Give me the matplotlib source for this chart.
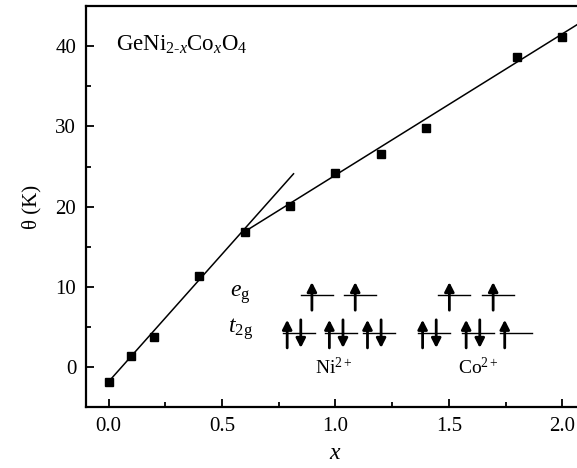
import numpy as np
import matplotlib
matplotlib.use("Agg")
from matplotlib import pyplot as plt
from matplotlib.ticker import MultipleLocator

plt.rcParams['font.family'] = ['Liberation Serif', 'DejaVu Serif']
plt.rcParams['mathtext.fontset'] = 'custom'
plt.rcParams['mathtext.rm'] = 'Liberation Serif'
plt.rcParams['mathtext.it'] = 'Liberation Serif:italic'

# measured points
x_data = [0.0, 0.1, 0.2, 0.4, 0.6, 0.8, 1.0, 1.2, 1.4, 1.8, 2.0]
theta = [-1.9, 1.4, 3.8, 11.4, 16.9, 20.1, 24.2, 26.6, 29.8, 38.6, 41.2]

# two linear fits (end points)
fit1_x = [0.0, 0.815]
fit1_y = [-1.8, 24.1]
fit2_x = [0.6, 2.1]
fit2_y = [16.9, 43.3]

# crystal field diagram: level start x, spins on each level
eg_levels = [(0.846, ['u']), (1.037, ['u']), (1.452, ['u']), (1.645, ['u'])]
t2g_levels = [(0.767, ['u', 'd']), (0.953, ['u', 'd']), (1.121, ['u', 'd']),
              (1.364, ['u', 'd']), (1.556, ['u', 'd']), (1.726, ['u'])]
eg_y = 9.0
t2g_y = 4.3

fig = plt.figure(figsize=(5.77, 4.68), dpi=100)
ax = fig.add_axes([0.149, 0.1297, 0.8649, 0.8573])

ax.plot(fit1_x, fit1_y, color='k', lw=1.1)
ax.plot(fit2_x, fit2_y, color='k', lw=1.1)
ax.plot(x_data, theta, 's', color='k', ms=6.3, ls='none')

ax.set_xlim(-0.1, 2.1)
ax.set_ylim(-5, 45)
ax.xaxis.set_major_locator(MultipleLocator(0.5))
ax.xaxis.set_minor_locator(MultipleLocator(0.25))
ax.yaxis.set_major_locator(MultipleLocator(10))
ax.yaxis.set_minor_locator(MultipleLocator(5))
ax.tick_params(which='both', direction='in', top=False, right=False, width=1.3,
               labelsize=15, pad=7)
ax.tick_params(which='major', length=6)
ax.tick_params(which='minor', length=3.5)
for s in ax.spines.values():
    s.set_linewidth(1.6)

ax.set_xlabel('$x$', fontsize=17, labelpad=5)
ax.set_ylabel('θ (K)', fontsize=15, labelpad=10)

ax.text(0.06, 0.89, r'GeNi$_{\text{2-}x}$Co$_x$O$_4$', transform=ax.transAxes,
        fontsize=16.5, va='baseline', ha='left')

# diagram
lw_w = 0.142
ax.text(0.58, eg_y, '$e$$_\\mathrm{g}$', fontsize=17, ha='center', va='center')
ax.text(0.58, t2g_y + 0.4, '$t$$_\\mathrm{2g}$', fontsize=17, ha='center', va='center')

def draw_level(x0, y, spins, offsets):
    ax.plot([x0, x0 + lw_w], [y, y], color='k', lw=1.0)
    for sp, dx in zip(spins, offsets):
        xa = x0 + dx
        if sp == 'u':
            tail, tip = (xa, y - 1.9), (xa, y + 1.6)
        else:
            tail, tip = (xa, y + 1.6), (xa, y - 1.9)
        ax.annotate('', xy=tip, xytext=tail,
                    arrowprops=dict(arrowstyle='-|>,head_width=0.28,head_length=0.55',
                                    lw=2.0, color='k', shrinkA=0, shrinkB=0))

for x0, spins in eg_levels:
    draw_level(x0, eg_y, spins, [0.05])
for x0, spins in t2g_levels:
    draw_level(x0, t2g_y, spins, [0.02, 0.08])

ax.text(0.99, -0.1, 'Ni$^{2+}$', fontsize=14, ha='center', va='center')
ax.text(1.63, -0.1, 'Co$^{2+}$', fontsize=14, ha='center', va='center')

fig.savefig('out.png', dpi=100)
